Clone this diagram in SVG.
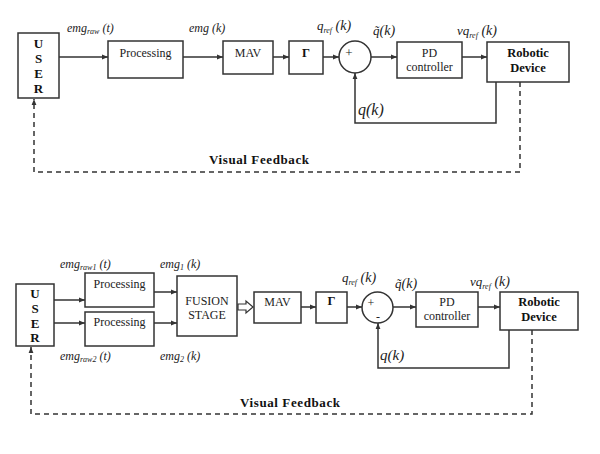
<svg xmlns="http://www.w3.org/2000/svg" width="600" height="454" viewBox="0 0 600 454">
<style>
.box{fill:#fff;stroke:#333;stroke-width:1.5}
.ln{fill:none;stroke:#333;stroke-width:1.5}
.dash{fill:none;stroke:#333;stroke-width:1.5;stroke-dasharray:5,4}
.t{font-family:"Liberation Serif","Times New Roman",serif;font-size:12px;fill:#222;text-anchor:middle}
.b{font-family:"Liberation Serif","Times New Roman",serif;font-weight:bold;font-size:12.5px;fill:#111;text-anchor:middle}
.u{font-family:"Liberation Serif","Times New Roman",serif;font-weight:bold;font-size:13px;fill:#111;text-anchor:middle}
.vf{font-family:"Liberation Serif","Times New Roman",serif;font-weight:bold;font-size:13px;fill:#111;letter-spacing:0.6px}
.i{font-family:"Liberation Serif","Times New Roman",serif;font-style:italic;font-size:12px;fill:#222}
.m{font-family:"Liberation Serif","Times New Roman",serif;font-style:italic;font-size:13px;fill:#222}
.s{font-size:8px}
.k{font-size:14px}
.q{font-family:"Liberation Serif","Times New Roman",serif;font-style:italic;font-size:16px;fill:#222}
</style>
<defs>
<marker id="ah" viewBox="0 0 10 10" refX="10" refY="5" markerWidth="4" markerHeight="4" orient="auto" markerUnits="strokeWidth">
<path d="M0,1 L10,5 L0,9 z" fill="#333"/>
</marker>
</defs>

<!-- TOP DIAGRAM -->
<g id="user1"><rect class="box" x="18" y="33" width="41" height="65"/>
<text class="u" x="38.5" y="48">U</text><text class="u" x="38.5" y="63">S</text><text class="u" x="38.5" y="78">E</text><text class="u" x="38.5" y="93">R</text></g>
<g id="proc1"><rect class="box" x="108" y="41" width="75" height="37"/><text class="t" x="145.5" y="57">Processing</text></g>
<g id="mav1"><rect class="box" x="223" y="41" width="50" height="33"/><text class="t" x="248" y="57">MAV</text></g>
<g id="gamma1"><rect class="box" x="289" y="41" width="34" height="33"/><text class="b" x="306" y="57">Γ</text></g>
<g id="sum1"><circle class="box" cx="355" cy="57" r="16"/><text class="t" x="349" y="57" style="font-size:13px">+</text></g>
<g id="pd1"><rect class="box" x="397" y="42" width="65" height="36"/><text class="t" x="429.5" y="57">PD</text><text class="t" x="429.5" y="71">controller</text></g>
<g id="robot1"><rect class="box" x="487" y="42" width="82" height="40"/><text class="b" x="528" y="57">Robotic</text><text class="b" x="528" y="72">Device</text></g>

<g id="labels1">
<text class="i" x="67" y="32">emg<tspan class="s" dy="2">raw</tspan><tspan dy="-2"> (t)</tspan></text>
<text class="i" x="189" y="32">emg (k)</text>
<text class="m" x="317" y="30">q<tspan class="s" dy="3">ref</tspan><tspan class="k" dy="-3"> (k)</tspan></text>
<text class="m" x="373" y="35">q̃<tspan class="k">(k)</tspan></text>
<text class="m" x="457" y="35">vq<tspan class="s" dy="3">ref</tspan><tspan class="k" dy="-3"> (k)</tspan></text>
<text class="q" x="358" y="115">q(k)</text>
<text class="vf" x="209" y="164">Visual Feedback</text>
</g>

<g id="connectors1">
<line class="ln" x1="59" y1="57" x2="108" y2="57" marker-end="url(#ah)"/>
<line class="ln" x1="183" y1="57" x2="223" y2="57" marker-end="url(#ah)"/>
<line class="ln" x1="273" y1="57" x2="289" y2="57" marker-end="url(#ah)"/>
<line class="ln" x1="323" y1="57" x2="339" y2="57" marker-end="url(#ah)"/>
<line class="ln" x1="371" y1="57" x2="397" y2="57" marker-end="url(#ah)"/>
<line class="ln" x1="462" y1="57" x2="487" y2="57" marker-end="url(#ah)"/>
<polyline class="ln" points="496,82 496,123 355,123 355,73" marker-end="url(#ah)"/>
<polyline class="dash" points="520,82 520,172 34,172 34,99" marker-end="url(#ah)"/>
</g>

<!-- BOTTOM DIAGRAM -->
<g id="user2"><rect class="box" x="16" y="284" width="38" height="62"/>
<text class="u" x="35" y="298">U</text><text class="u" x="35" y="313">S</text><text class="u" x="35" y="328">E</text><text class="u" x="35" y="342">R</text></g>
<g id="proc2a"><rect class="box" x="85" y="273" width="69" height="34"/><text class="t" x="119.5" y="288">Processing</text></g>
<g id="proc2b"><rect class="box" x="85" y="312" width="69" height="34"/><text class="t" x="119.5" y="326">Processing</text></g>
<g id="fusion"><rect class="box" x="177" y="276" width="60" height="60"/><text class="t" x="207" y="305">FUSION</text><text class="t" x="207" y="319">STAGE</text></g>
<g id="mav2"><rect class="box" x="254" y="292" width="47" height="31"/><text class="t" x="277.5" y="306">MAV</text></g>
<g id="gamma2"><rect class="box" x="316" y="292" width="31" height="31"/><text class="b" x="331.5" y="305">Γ</text></g>
<g id="sum2"><circle class="box" cx="377.5" cy="307.5" r="15.5"/><text class="t" x="371" y="307" style="font-size:12px">+</text><text class="t" x="378" y="321" style="font-size:12px">-</text></g>
<g id="pd2"><rect class="box" x="416" y="292" width="62" height="35"/><text class="t" x="447" y="306">PD</text><text class="t" x="447" y="320">controller</text></g>
<g id="robot2"><rect class="box" x="500" y="292" width="78" height="38"/><text class="b" x="539" y="306">Robotic</text><text class="b" x="539" y="321">Device</text></g>

<g id="labels2">
<text class="i" x="60" y="268">emg<tspan class="s" dy="2">raw1</tspan><tspan dy="-2"> (t)</tspan></text>
<text class="i" x="160" y="268">emg<tspan class="s" dy="2">1</tspan><tspan dy="-2"> (k)</tspan></text>
<text class="i" x="60" y="360">emg<tspan class="s" dy="2">raw2</tspan><tspan dy="-2"> (t)</tspan></text>
<text class="i" x="160" y="360">emg<tspan class="s" dy="2">2</tspan><tspan dy="-2"> (k)</tspan></text>
<text class="m" x="342" y="282">q<tspan class="s" dy="3">ref</tspan><tspan class="k" dy="-3"> (k)</tspan></text>
<text class="m" x="395" y="288">q̃<tspan class="k">(k)</tspan></text>
<text class="m" x="470" y="286">vq<tspan class="s" dy="3">ref</tspan><tspan class="k" dy="-3"> (k)</tspan></text>
<text class="q" x="380" y="360" style="font-size:15px">q(k)</text>
<text class="vf" x="240" y="407">Visual Feedback</text>
</g>

<g id="connectors2">
<line class="ln" x1="54" y1="300" x2="85" y2="300" marker-end="url(#ah)"/>
<line class="ln" x1="54" y1="323" x2="85" y2="323" marker-end="url(#ah)"/>
<line class="ln" x1="154" y1="292" x2="177" y2="292" marker-end="url(#ah)"/>
<line class="ln" x1="154" y1="323" x2="177" y2="323" marker-end="url(#ah)"/>
<path d="M238,304 H246 V301 L253,307 L246,313 V310 H238 Z" fill="#fff" stroke="#333" stroke-width="1.2"/>
<line class="ln" x1="301" y1="307" x2="316" y2="307" marker-end="url(#ah)"/>
<line class="ln" x1="347" y1="307" x2="362" y2="307" marker-end="url(#ah)"/>
<line class="ln" x1="393" y1="307" x2="416" y2="307" marker-end="url(#ah)"/>
<line class="ln" x1="478" y1="307" x2="500" y2="307" marker-end="url(#ah)"/>
<polyline class="ln" points="509,330 509,368 378,368 378,323" marker-end="url(#ah)"/>
<polyline class="dash" points="532,330 532,414 31,414 31,347" marker-end="url(#ah)"/>
</g>
</svg>
